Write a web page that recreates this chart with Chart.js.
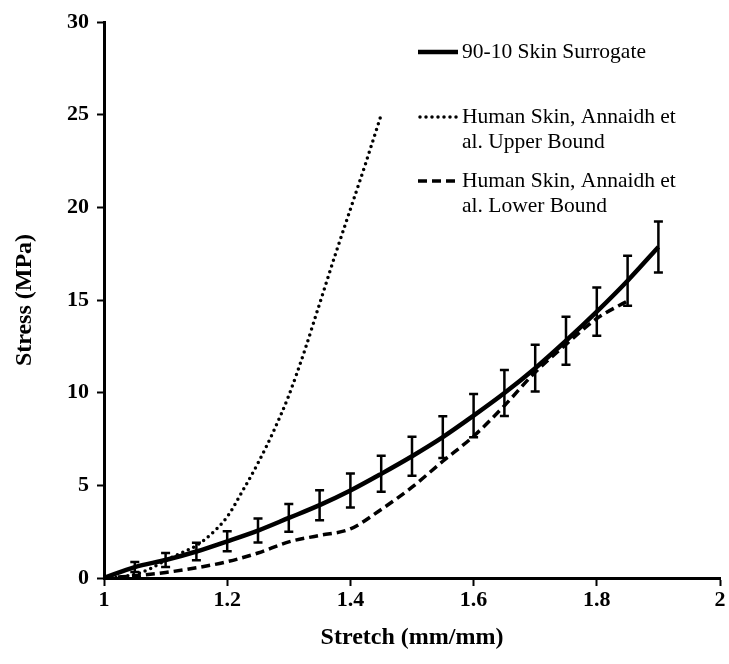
<!DOCTYPE html>
<html>
<head>
<meta charset="utf-8">
<script src="https://cdn.jsdelivr.net/npm/chart.js@4.4.0/dist/chart.umd.min.js"></script>
<style>
  html, body { margin: 0; padding: 0; background: #fff; }
</style>
</head>
<body>
<canvas id="myChart" width="729" height="664"></canvas>
<script>
// 90-10 skin surrogate (mean + std dev)
var surrogateX = [1.0, 1.05, 1.1, 1.15, 1.2, 1.25, 1.3, 1.35, 1.4, 1.45, 1.5, 1.55, 1.6, 1.65, 1.7, 1.75, 1.8, 1.85, 1.9];
var surrogateY = [0, 0.59, 0.97, 1.43, 1.98, 2.56, 3.24, 3.93, 4.72, 5.62, 6.57, 7.6, 8.76, 9.98, 11.32, 12.8, 14.37, 16.04, 17.86];
var surrogateErr = [0, 0.27, 0.38, 0.47, 0.54, 0.65, 0.75, 0.81, 0.92, 0.97, 1.05, 1.13, 1.17, 1.24, 1.26, 1.3, 1.3, 1.35, 1.38];

// Annaidh et al. upper bound
var upperX = [1.0, 1.025, 1.05, 1.075, 1.1, 1.125, 1.15, 1.175, 1.2, 1.225, 1.25, 1.275, 1.3, 1.325, 1.35, 1.375, 1.4, 1.425, 1.45];
var upperY = [0, 0.05, 0.2, 0.5, 0.95, 1.35, 1.75, 2.4, 3.3, 4.7, 6.2, 7.9, 9.85, 12.2, 14.8, 17.4, 19.9, 22.4, 25.0];

// Annaidh et al. lower bound
var lowerX = [1.0, 1.05, 1.1, 1.15, 1.2, 1.25, 1.3, 1.35, 1.4, 1.45, 1.5, 1.55, 1.6, 1.65, 1.7, 1.75, 1.8, 1.85];
var lowerY = [0, 0.12, 0.3, 0.55, 0.88, 1.35, 1.95, 2.3, 2.65, 3.7, 4.9, 6.3, 7.65, 9.3, 11.1, 12.6, 14.0, 14.95];

var xTicks = [1, 1.2, 1.4, 1.6, 1.8, 2];
var yTicks = [0, 5, 10, 15, 20, 25, 30];

var legendLabels = [
  ["90-10 Skin Surrogate"],
  ["Human Skin, Annaidh et", "al. Upper Bound"],
  ["Human Skin, Annaidh et", "al. Lower Bound"]
];

function toPoints(xs, ys) {
  var pts = [];
  for (var i = 0; i < xs.length; i++) pts.push({ x: xs[i], y: ys[i] });
  return pts;
}

var errorBars = {
  id: 'errorBars',
  afterDatasetsDraw: function (chart) {
    var ctx = chart.ctx;
    var xs = chart.scales.x, ys = chart.scales.y;
    ctx.save();
    ctx.strokeStyle = '#000';
    ctx.lineWidth = 2.5;
    for (var i = 0; i < surrogateX.length; i++) {
      if (!surrogateErr[i]) continue;
      var px = xs.getPixelForValue(surrogateX[i]);
      var top = ys.getPixelForValue(surrogateY[i] + surrogateErr[i]);
      var bot = ys.getPixelForValue(surrogateY[i] - surrogateErr[i]);
      ctx.beginPath();
      ctx.moveTo(px, top); ctx.lineTo(px, bot);
      ctx.moveTo(px - 4.5, top); ctx.lineTo(px + 4.5, top);
      ctx.moveTo(px - 4.5, bot); ctx.lineTo(px + 4.5, bot);
      ctx.stroke();
    }
    ctx.restore();
  }
};

var sideLegend = {
  id: 'sideLegend',
  afterDraw: function (chart) {
    var ctx = chart.ctx;
    var rows = [52, 117, 181];
    ctx.save();
    ctx.font = '21.5px "Liberation Serif"';
    ctx.fillStyle = '#000';
    ctx.textBaseline = 'middle';
    chart.data.datasets.forEach(function (ds, i) {
      var y = rows[i];
      ctx.beginPath();
      ctx.strokeStyle = '#000';
      ctx.lineWidth = ds.borderWidth;
      ctx.lineCap = ds.borderCapStyle || 'butt';
      ctx.setLineDash(ds.borderDash || []);
      ctx.moveTo(i === 1 ? 420 : 418, y);
      ctx.lineTo(458, y);
      ctx.stroke();
      ctx.setLineDash([]);
      legendLabels[i].forEach(function (line, k) {
        ctx.fillText(line, 462, y + k * 25);
      });
    });
    ctx.restore();
  }
};

var tickFont = { family: '"Liberation Serif"', size: 22, weight: 'bold' };
var titleFont = { family: '"Liberation Serif"', size: 24, weight: 'bold' };

function plainNum(v) { return String(+v.toFixed(2)); }

new Chart(document.getElementById('myChart').getContext('2d'), {
  type: 'line',
  data: {
    datasets: [
      {
        label: '90-10 Skin Surrogate',
        data: toPoints(surrogateX, surrogateY),
        borderColor: '#000',
        borderWidth: 4.5,
        pointRadius: 0,
        cubicInterpolationMode: 'monotone'
      },
      {
        label: 'Human Skin, Annaidh et al. Upper Bound',
        data: toPoints(upperX, upperY),
        borderColor: '#000',
        borderWidth: 3.5,
        borderDash: [0, 6],
        borderCapStyle: 'round',
        pointRadius: 0,
        cubicInterpolationMode: 'monotone'
      },
      {
        label: 'Human Skin, Annaidh et al. Lower Bound',
        data: toPoints(lowerX, lowerY),
        borderColor: '#000',
        borderWidth: 3.5,
        borderDash: [9, 5],
        pointRadius: 0,
        cubicInterpolationMode: 'monotone'
      }
    ]
  },
  options: {
    responsive: false,
    animation: false,
    layout: { padding: { top: 22, right: 9, left: 0, bottom: 0 } },
    plugins: { legend: { display: false }, tooltip: { enabled: false } },
    scales: {
      x: {
        type: 'linear',
        min: 1, max: 2,
        afterBuildTicks: function (s) { s.ticks = xTicks.map(function (v) { return { value: v }; }); },
        afterFit: function (s) { s.height = 86; },
        ticks: { color: '#000', font: tickFont, padding: 1, maxRotation: 0, callback: plainNum },
        grid: { drawOnChartArea: false, drawTicks: true, tickLength: 8, tickWidth: 2, tickColor: '#000' },
        border: { display: true, color: '#000', width: 3 },
        title: { display: true, text: 'Stretch (mm/mm)', color: '#000', font: titleFont, padding: { top: 0, bottom: 12 } }
      },
      y: {
        min: 0, max: 30,
        afterBuildTicks: function (s) { s.ticks = yTicks.map(function (v) { return { value: v }; }); },
        afterFit: function (s) { s.width = 104; },
        ticks: { color: '#000', font: tickFont, padding: 8, callback: plainNum },
        grid: { drawOnChartArea: false, drawTicks: true, tickLength: 7, tickWidth: 2, tickColor: '#000' },
        border: { display: true, color: '#000', width: 3 },
        title: { display: true, text: 'Stress (MPa)', color: '#000', font: titleFont, padding: { top: 10, bottom: 0 } }
      }
    }
  },
  plugins: [errorBars, sideLegend]
});
</script>
</body>
</html>
